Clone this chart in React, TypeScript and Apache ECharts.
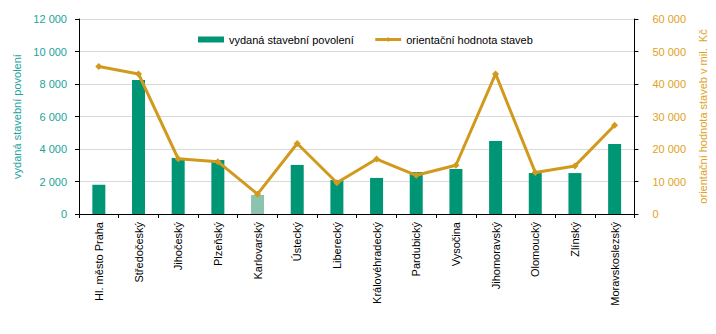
import React, { useEffect, useRef } from "react";
import * as echarts from "echarts";

const categories = [
  "Hl. město Praha",
  "Středočeský",
  "Jihočeský",
  "Plzeňský",
  "Karlovarský",
  "Ústecký",
  "Liberecký",
  "Královéhradecký",
  "Pardubický",
  "Vysočina",
  "Jihomoravský",
  "Olomoucký",
  "Zlínský",
  "Moravskoslezský",
];
const permits = [1800, 8250, 3450, 3320, 1170, 3020, 2090, 2220, 2580, 2770, 4490, 2520, 2520, 4310];
const values = [45400, 43100, 17000, 16100, 6100, 21700, 9600, 16900, 11900, 15000, 43100, 12800, 14800, 27300];
const highlightIndex = 4;

const FONT = "'Liberation Sans', Arial, sans-serif";
const fmt = (v: number) => String(v).replace(/\B(?=(\d{3})+(?!\d))/g, " ");

export default function App() {
  const ref = useRef<HTMLDivElement>(null);
  useEffect(() => {
    const chart = echarts.init(ref.current!, null, { renderer: "svg" });
    chart.setOption({
      animation: false,
      textStyle: { fontFamily: FONT },
      legend: {
        top: 29,
        left: 193,
        itemGap: 20,
        textStyle: { fontSize: 11, color: "#000", fontFamily: FONT },
        data: [
          { name: "vydaná stavební povolení", icon: "rect", itemStyle: { color: "#009675" } },
          { name: "orientační hodnota staveb", lineStyle: { width: 3, color: "#D29A1C" } },
        ],
        itemWidth: 26,
        itemHeight: 6,
      },
      grid: { left: 79, right: 78, top: 19, bottom: 120 },
      xAxis: {
        type: "category",
        data: categories,
        boundaryGap: true,
        axisLine: { lineStyle: { color: "#000", width: 1 } },
        axisTick: { show: true, alignWithLabel: false, length: 4, lineStyle: { color: "#000" } },
        axisLabel: { rotate: 90, margin: 8, fontSize: 11, color: "#000", fontFamily: FONT, interval: 0 },
      },
      yAxis: [
        {
          type: "value",
          min: 0,
          max: 12000,
          interval: 2000,
          name: "vydaná stavební povolení",
          nameLocation: "middle",
          nameRotate: 90,
          nameGap: 54,
          nameTextStyle: { color: "#1BA39C", fontSize: 11, fontFamily: FONT },
          axisLine: { show: true, lineStyle: { color: "#000" } },
          axisTick: { show: true, length: 4, lineStyle: { color: "#000" } },
          axisLabel: { color: "#1BA39C", fontSize: 11, margin: 12, formatter: fmt, fontFamily: FONT },
          splitLine: { show: true, lineStyle: { color: "#D9D9D9", width: 1 } },
        },
        {
          type: "value",
          min: 0,
          max: 60000,
          interval: 10000,
          name: "orientační hodnota staveb v mil.  Kč",
          nameLocation: "middle",
          nameRotate: 90,
          nameGap: 56,
          nameTextStyle: { color: "#E0A21E", fontSize: 11, fontFamily: FONT },
          axisLine: { show: true, lineStyle: { color: "#000" } },
          axisTick: { show: true, length: 4, lineStyle: { color: "#000" } },
          axisLabel: { color: "#E0A21E", fontSize: 11, margin: 18, formatter: fmt, fontFamily: FONT },
          splitLine: { show: false },
        },
      ],
      series: [
        {
          name: "vydaná stavební povolení",
          type: "bar",
          yAxisIndex: 0,
          barWidth: 13,
          data: permits.map((v, i) =>
            i === highlightIndex ? { value: v, itemStyle: { color: "#8CC3AE" } } : v
          ),
          itemStyle: { color: "#009675" },
        },
        {
          name: "orientační hodnota staveb",
          type: "line",
          yAxisIndex: 1,
          data: values,
          symbol: "diamond",
          symbolSize: 7,
          lineStyle: { color: "#D29A1C", width: 3 },
          itemStyle: { color: "#D29A1C" },
        },
      ],
    });
    return () => chart.dispose();
  }, []);
  return <div ref={ref} style={{ width: 716, height: 334, position: "absolute", left: 0, top: 0 }} />;
}
